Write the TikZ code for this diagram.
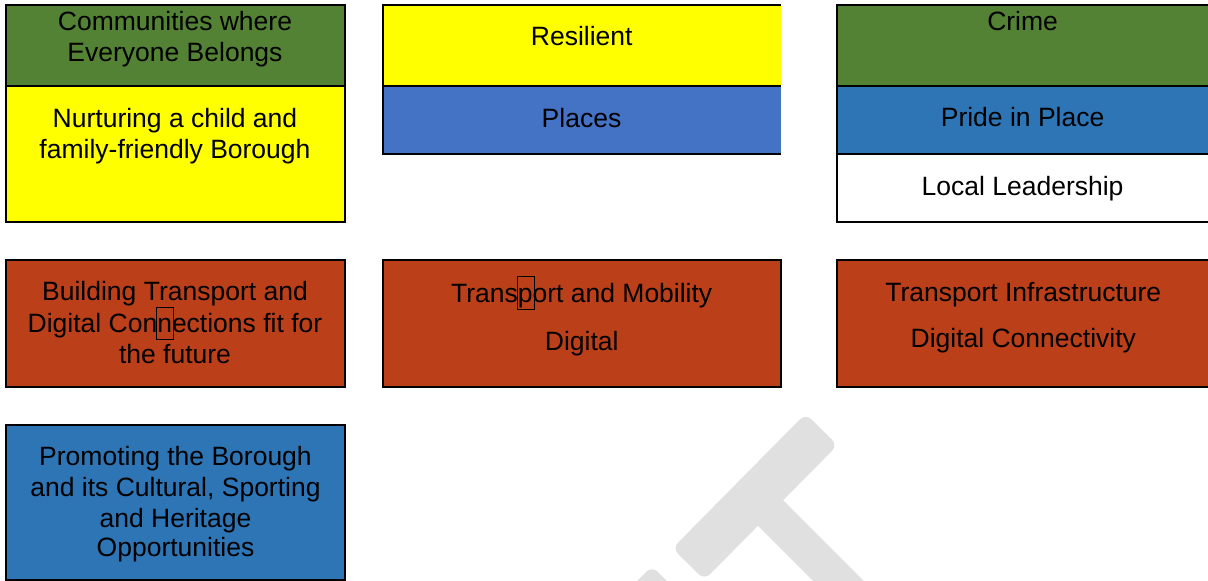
\documentclass[tikz,border=0pt]{standalone}
\usepackage{fontspec}
\setmainfont{Liberation Sans}
\definecolor{cgreen}{HTML}{548235}
\definecolor{cyellow}{HTML}{FFFF00}
\definecolor{cblueA}{HTML}{4472C4}
\definecolor{cblueB}{HTML}{2E75B6}
\definecolor{cred}{HTML}{BB401A}
\definecolor{wmgrey}{HTML}{E0E0E0}
\begin{document}
\begin{tikzpicture}[x=1pt,y=-1pt,
  lbl/.style={anchor=base, inner sep=0pt, font=\fontsize{26.5}{31}\selectfont},
  edge/.style={line width=2pt},
  letterbox/.style={line width=1pt}]
\useasboundingbox (0,0) rectangle (1208,581);
% watermark fragments
\fill[wmgrey, rounded corners=8pt] (805.6,413.6) -- (837.6,445.2) -- (704.4,579.9) -- (672.4,548.3) -- cycle;
\fill[wmgrey] (780.7,497.8) -- (890,607) -- (865,633) -- (755.3,523.2) -- cycle;
\fill[wmgrey, rounded corners=8pt] (652,566) -- (692,606) -- (652,646) -- (612,606) -- cycle;
% row 1
\fill[cgreen] (5.7,5) rectangle (345,86);
\fill[cyellow] (5.7,86) rectangle (345,221.7);
\draw[edge] (5.7,5) rectangle (345,221.7);
\draw[edge] (5.7,86) -- (345,86);
\fill[cyellow] (382.7,5) rectangle (781,86);
\fill[cblueA] (382.7,86) rectangle (781,153.7);
\draw[edge] (781,5) -- (382.7,5) -- (382.7,153.7) -- (781,153.7);
\draw[edge] (382.7,86) -- (781,86);
\fill[cgreen] (836.7,5) rectangle (1208,86);
\fill[cblueB] (836.7,86) rectangle (1208,153.7);
\fill[white] (836.7,153.7) rectangle (1208,221.7);
\draw[edge] (1208,5) -- (836.7,5) -- (836.7,221.7) -- (1208,221.7);
\draw[edge] (836.7,86) -- (1208,86);
\draw[edge] (836.7,153.7) -- (1208,153.7);
% row 2
\draw[edge, fill=cred] (5.7,260) rectangle (345,387.3);
\draw[edge, fill=cred] (382.7,260) rectangle (781,387.3);
\fill[cred] (836.7,260) rectangle (1208,387.3);
\draw[edge] (1208,260) -- (836.7,260) -- (836.7,387.3) -- (1208,387.3);
% row 3
\draw[edge, fill=cblueB] (5.7,425) rectangle (345,580);
% texts
\node[lbl] (a1) at (175,30) {Communities where};
\node[lbl] (a2) at (175,61) {Everyone Belongs};
\node[lbl] (a3) at (175,127.5) {Nurturing a child and};
\node[lbl] (a4) at (175,158) {family-friendly Borough};
\node[lbl] (b1) at (581.7,45.7) {Resilient};
\node[lbl] (b2) at (581.5,127) {Places};
\node[lbl] (c1) at (1022.6,30) {Crime};
\node[lbl] (c2) at (1022.6,126.7) {Pride in Place};
\node[lbl] (c3) at (1022.6,195) {Local Leadership};
\node[lbl] (d1) at (175,300.7) {Building Transport and};
\node[lbl] (d2) at (175,332.7) {Digital Connections fit for};
\node[lbl] (d3) at (175,363.3) {the future};
\node[lbl] (e1) at (581.7,302.3) {Transport and Mobility};
\node[lbl] (e2) at (581.7,350.7) {Digital};
\node[lbl] (f1) at (1023.3,301) {Transport Infrastructure};
\node[lbl] (f2) at (1023.3,347.3) {Digital Connectivity};
\node[lbl] (g1) at (175.5,465) {Promoting the Borough};
\node[lbl] (g2) at (175.5,496) {and its Cultural, Sporting};
\node[lbl] (g3) at (175.5,527.3) {and Heritage};
\node[lbl] (g4) at (175.5,556.7) {Opportunities};
% small marks around letters
\draw[letterbox] (156.7,307.3) rectangle (173.3,339.3);
\draw[letterbox] (517.7,276) rectangle (534.3,309.3);
\end{tikzpicture}
\end{document}
